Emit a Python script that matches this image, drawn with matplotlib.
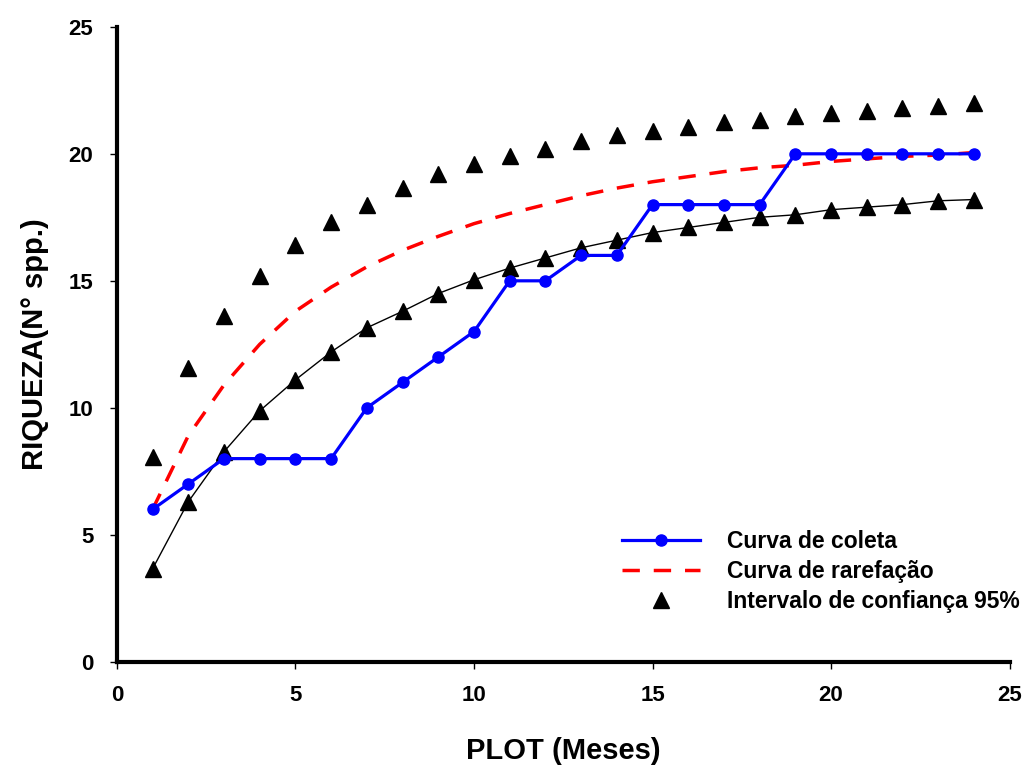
import matplotlib.pyplot as plt

plt.rcParams['font.family'] = ['Liberation Sans', 'DejaVu Sans']
plt.rcParams['font.weight'] = 'bold'

meses = list(range(1, 25))
coleta = [6, 7, 8, 8, 8, 8, 10, 11, 12, 13, 15, 15, 16, 16, 18, 18, 18, 18,
          20, 20, 20, 20, 20, 20]
rarefacao = [6.0, 8.9, 10.9, 12.5, 13.8, 14.75, 15.55, 16.2, 16.75, 17.25,
             17.65, 18.0, 18.35, 18.65, 18.9, 19.1, 19.3, 19.45, 19.55, 19.7,
             19.8, 19.9, 19.95, 20.05]
ic_sup = [8.07, 11.57, 13.6, 15.2, 16.4, 17.3, 18.0, 18.66, 19.2, 19.6, 19.9,
          20.2, 20.5, 20.75, 20.9, 21.05, 21.25, 21.35, 21.5, 21.6, 21.7,
          21.8, 21.9, 22.0]
ic_inf = [3.66, 6.3, 8.27, 9.88, 11.1, 12.2, 13.15, 13.8, 14.5, 15.04, 15.5,
          15.9, 16.3, 16.6, 16.9, 17.1, 17.3, 17.5, 17.6, 17.8, 17.9, 18.0,
          18.15, 18.2]

fig = plt.figure(figsize=(10.25, 7.66), dpi=100)
ax = fig.add_axes([0.114, 0.136, 0.871, 0.829])

# limite inferior com linha fina
ax.plot(meses, ic_inf, color='black', lw=1, marker='^', ms=11, zorder=2)
ax.plot(meses, ic_sup, color='black', lw=0, marker='^', ms=11, zorder=2)
ax.plot(meses, rarefacao, color='red', lw=2.5, ls=(0, (5, 4)), zorder=3)
ax.plot(meses, coleta, color='blue', lw=2.3, marker='o', ms=8, zorder=4)

# handles da legenda
h1, = ax.plot([], [], color='blue', lw=2.3, marker='o', ms=8, label='Curva de coleta')
h2, = ax.plot([], [], color='red', lw=2.5, ls=(0, (5, 4)), label='Curva de rarefação')
h3, = ax.plot([], [], color='black', lw=0, marker='^', ms=11, label='Intervalo de confiança 95%')
ax.legend(handles=[h1, h2, h3], loc='lower right', bbox_to_anchor=(1.035, 0.045),
          frameon=False, handlelength=3.4, labelspacing=0.3,
          handletextpad=1.2, prop={'weight': 'bold', 'size': 16.5})

ax.set_xlim(0, 25)
ax.set_ylim(0, 25)
ax.set_xticks([0, 5, 10, 15, 20, 25])
ax.set_yticks([0, 5, 10, 15, 20, 25])
ax.spines['top'].set_visible(False)
ax.spines['right'].set_visible(False)
ax.spines['left'].set_linewidth(3)
ax.spines['bottom'].set_linewidth(3)
ax.tick_params(direction='out', length=5, width=1, labelsize=16, pad=12)
for lab in ax.get_xticklabels() + ax.get_yticklabels():
    lab.set_fontweight('bold')

ax.set_xlabel('PLOT (Meses)', fontsize=21, fontweight='bold', labelpad=22)
ax.set_ylabel('RIQUEZA(N° spp.)', fontsize=21, fontweight='bold', labelpad=14)

fig.savefig('out.png', dpi=100)
